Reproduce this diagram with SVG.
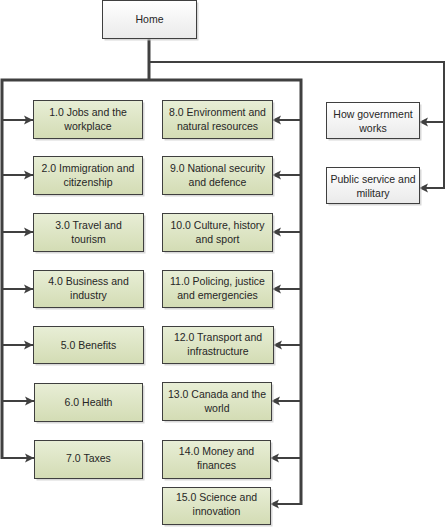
<svg xmlns="http://www.w3.org/2000/svg" width="445" height="527" viewBox="0 0 445 527">
<defs>
<linearGradient id="gGreen" x1="0" y1="0" x2="0" y2="1">
<stop offset="0" stop-color="#e8eed6"/>
<stop offset="1" stop-color="#d3dcb4"/>
</linearGradient>
<linearGradient id="gWhite" x1="0" y1="0" x2="0" y2="1">
<stop offset="0" stop-color="#ffffff"/>
<stop offset="1" stop-color="#eaeaea"/>
</linearGradient>
<marker id="arr" markerUnits="userSpaceOnUse" markerWidth="10" markerHeight="10" refX="9" refY="5" orient="auto">
<path d="M0,0.5 L9,5 L0,9.5 L2,5 Z" fill="#404040"/>
</marker>
<style>
.g rect.b{fill:url(#gGreen);stroke:#3f3f3f;stroke-width:1}
.w rect.b{fill:url(#gWhite);stroke:#3f3f3f;stroke-width:1}
rect.s{fill:#c8c8c8;opacity:0.7}
text{font-family:"Liberation Sans",Arial,sans-serif;font-size:10.5px;fill:#262626;text-anchor:middle}
.c line,.c polyline{stroke:#404040;fill:none;stroke-linejoin:miter}
.thick{stroke-width:3}
.med{stroke-width:2.5}
.thin{stroke-width:2}
</style>
</defs>
<g id="connectors" class="c">
<line class="thick" x1="149" y1="38" x2="149" y2="80"/>
<polyline class="thin" points="149,62 444,62 444,188"/>
<polyline class="thick" points="2,459 2,80 301,80 301,505"/>
<line class="thin" x1="2" y1="120" x2="33" y2="120" marker-end="url(#arr)"/>
<line class="thin" x1="2" y1="175" x2="33" y2="175" marker-end="url(#arr)"/>
<line class="thin" x1="2" y1="232" x2="33" y2="232" marker-end="url(#arr)"/>
<line class="thin" x1="2" y1="289" x2="33" y2="289" marker-end="url(#arr)"/>
<line class="thin" x1="2" y1="345" x2="33" y2="345" marker-end="url(#arr)"/>
<line class="thin" x1="2" y1="401" x2="34" y2="401" marker-end="url(#arr)"/>
<line class="thin" x1="1" y1="458" x2="34" y2="458" marker-end="url(#arr)"/>
<line class="thin" x1="301" y1="120" x2="272" y2="120" marker-end="url(#arr)"/>
<line class="thin" x1="301" y1="175" x2="272" y2="175" marker-end="url(#arr)"/>
<line class="thin" x1="301" y1="232" x2="272" y2="232" marker-end="url(#arr)"/>
<line class="thin" x1="301" y1="289" x2="272" y2="289" marker-end="url(#arr)"/>
<line class="thin" x1="301" y1="345" x2="273" y2="345" marker-end="url(#arr)"/>
<line class="thin" x1="301" y1="401" x2="271" y2="401" marker-end="url(#arr)"/>
<line class="thin" x1="301" y1="458" x2="270" y2="458" marker-end="url(#arr)"/>
<line class="thin" x1="302" y1="504" x2="270" y2="504" marker-end="url(#arr)"/>
<line class="thin" x1="444" y1="122" x2="419" y2="122" marker-end="url(#arr)"/>
<line class="thin" x1="445" y1="188" x2="419" y2="188" marker-end="url(#arr)"/>
</g>
<g id="home" class="w"><rect class="s" x="104.5" y="2.5" width="94" height="38"/><rect class="b" x="102.5" y="0.5" width="94" height="38"/><text x="149.5" y="23">Home</text></g>
<g id="n1" class="g"><rect class="s" x="35.5" y="102.5" width="109" height="38"/><rect class="b" x="33.5" y="100.5" width="109" height="38"/><text x="88" y="116">1.0 Jobs and the</text><text x="88" y="130">workplace</text></g>
<g id="n2" class="g"><rect class="s" x="35.5" y="158.5" width="109" height="38"/><rect class="b" x="33.5" y="156.5" width="109" height="38"/><text x="88" y="172">2.0 Immigration and</text><text x="88" y="186">citizenship</text></g>
<g id="n3" class="g"><rect class="s" x="35.5" y="215.5" width="110" height="38"/><rect class="b" x="33.5" y="213.5" width="110" height="38"/><text x="88.5" y="229">3.0 Travel and</text><text x="88.5" y="243">tourism</text></g>
<g id="n4" class="g"><rect class="s" x="35.5" y="272.5" width="110" height="37"/><rect class="b" x="33.5" y="270.5" width="110" height="37"/><text x="88.5" y="285">4.0 Business and</text><text x="88.5" y="299">industry</text></g>
<g id="n5" class="g"><rect class="s" x="35.5" y="328.5" width="110" height="37"/><rect class="b" x="33.5" y="326.5" width="110" height="37"/><text x="88.5" y="349">5.0 Benefits</text></g>
<g id="n6" class="g"><rect class="s" x="36.5" y="385.5" width="108" height="38"/><rect class="b" x="34.5" y="383.5" width="108" height="38"/><text x="88.5" y="406">6.0 Health</text></g>
<g id="n7" class="g"><rect class="s" x="36.5" y="442.5" width="108" height="38"/><rect class="b" x="34.5" y="440.5" width="108" height="38"/><text x="88.5" y="462">7.0 Taxes</text></g>
<g id="n8" class="g"><rect class="s" x="164.5" y="102.5" width="110" height="38"/><rect class="b" x="162.5" y="100.5" width="110" height="38"/><text x="217.5" y="116">8.0 Environment and</text><text x="217.5" y="130">natural resources</text></g>
<g id="n9" class="g"><rect class="s" x="164.5" y="158.5" width="110" height="38"/><rect class="b" x="162.5" y="156.5" width="110" height="38"/><text x="217.5" y="172">9.0 National security</text><text x="217.5" y="186">and defence</text></g>
<g id="n10" class="g"><rect class="s" x="164.5" y="215.5" width="110" height="38"/><rect class="b" x="162.5" y="213.5" width="110" height="38"/><text x="217.5" y="229">10.0 Culture, history</text><text x="217.5" y="243">and sport</text></g>
<g id="n11" class="g"><rect class="s" x="164.5" y="272.5" width="110" height="37"/><rect class="b" x="162.5" y="270.5" width="110" height="37"/><text x="217.5" y="285">11.0 Policing, justice</text><text x="217.5" y="299">and emergencies</text></g>
<g id="n12" class="g"><rect class="s" x="164.5" y="328.5" width="111" height="37"/><rect class="b" x="162.5" y="326.5" width="111" height="37"/><text x="218" y="341">12.0 Transport and</text><text x="218" y="355">infrastructure</text></g>
<g id="n13" class="g"><rect class="s" x="164.5" y="384.5" width="109" height="38"/><rect class="b" x="162.5" y="382.5" width="109" height="38"/><text x="217" y="398">13.0 Canada and the</text><text x="217" y="412">world</text></g>
<g id="n14" class="g"><rect class="s" x="164.5" y="442.5" width="108" height="38"/><rect class="b" x="162.5" y="440.5" width="108" height="38"/><text x="216.5" y="455">14.0 Money and</text><text x="216.5" y="469">finances</text></g>
<g id="n15" class="g"><rect class="s" x="164.5" y="489.5" width="108" height="37"/><rect class="b" x="162.5" y="487.5" width="108" height="37"/><text x="216.5" y="501">15.0 Science and</text><text x="216.5" y="515">innovation</text></g>
<g id="how" class="w"><rect class="s" x="328.5" y="104.5" width="93" height="36"/><rect class="b" x="326.5" y="102.5" width="93" height="36"/><text x="373" y="118">How government</text><text x="373" y="132">works</text></g>
<g id="public" class="w"><rect class="s" x="328.5" y="169.5" width="93" height="36"/><rect class="b" x="326.5" y="167.5" width="93" height="36"/><text x="373" y="183">Public service and</text><text x="373" y="197">military</text></g>
</svg>
